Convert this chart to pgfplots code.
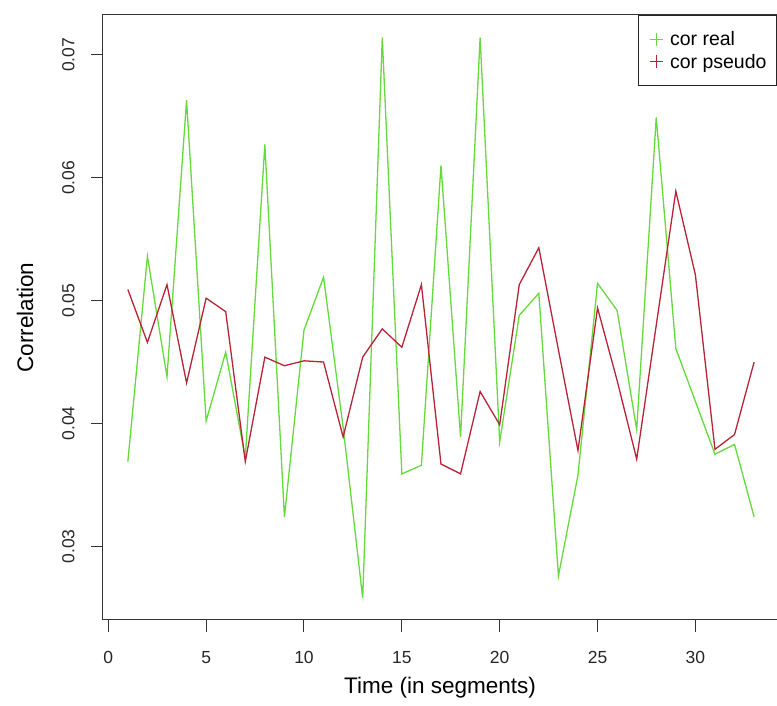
\documentclass[border=0pt]{standalone}
\usepackage{pgfplots}
\pgfplotsset{compat=1.18}
\usepackage{fontspec}
\setmainfont{Liberation Sans}
\definecolor{cgreen}{RGB}{100,218,60}
\definecolor{cred}{RGB}{185,35,55}
\begin{document}
\begin{tikzpicture}[x=1pt,y=1pt]
\useasboundingbox (0,0) rectangle (777,706);
\begin{axis}[
  at={(103pt,86pt)}, anchor=south west,
  scale only axis, width=674pt, height=605pt,
  xmin=-0.27, xmax=34.17, ymin=0.02401, ymax=0.07324,
  scaled y ticks=false, scaled x ticks=false,
  axis line style={draw=black!80, line width=1pt},
  tick align=outside, major tick length=12pt,
  tick style={draw=black!80, line width=1pt},
  xtick pos=lower, ytick pos=left,
  xtick={0,5,10,15,20,25,30}, xticklabels={0,5,10,15,20,25,30},
  ytick={0.03,0.04,0.05,0.06,0.07}, yticklabels={0.03,0.04,0.05,0.06,0.07},
  ticklabel style={font=\fontsize{17.5}{20}\selectfont, text=black!85},
  xticklabel style={yshift=-16pt},
  yticklabel style={rotate=90, anchor=south, yshift=13pt},
  xlabel={Time (in segments)}, ylabel={Correlation},
  label style={font=\fontsize{22.5}{26}\selectfont},
  xlabel style={at={(axis description cs:0.5,-0.1124)}, anchor=center},
  ylabel style={at={(axis description cs:-0.1157,0.5)}, anchor=center},
  legend style={at={(rel axis cs:1,1)}, anchor=north east, draw=black!85, line width=1pt,
    fill=white, font=\fontsize{19.5}{23}\selectfont, inner xsep=8pt, inner ysep=14pt,
    row sep=3pt},
  legend cell align=left,
  legend image code/.code={%
    \draw[#1, mark=+, mark size=6.5pt, mark options={solid, line width=1pt}] plot coordinates {(10pt,0pt)};
    \path[draw=none, fill=none] (0pt,0pt) (22pt,0pt);},
]
\addplot[color=cgreen, line width=1.3pt] coordinates {
(1,0.0369) (2,0.0536) (3,0.0438) (4,0.0663) (5,0.0402) (6,0.0458) (7,0.0372)
(8,0.0627) (9,0.0324) (10,0.0476) (11,0.0519) (12,0.0397) (13,0.0258) (14,0.0714)
(15,0.0359) (16,0.0366) (17,0.0610) (18,0.0389) (19,0.0714) (20,0.0385) (21,0.0488)
(22,0.0506) (23,0.0276) (24,0.0358) (25,0.0514) (26,0.0492) (27,0.0395) (28,0.0649)
(29,0.0461) (30,0.0418) (31,0.0375) (32,0.0383) (33,0.0324)};
\addlegendentry{cor real}
\addplot[color=cred, line width=1.3pt] coordinates {
(1,0.0509) (2,0.0466) (3,0.0513) (4,0.0433) (5,0.0502) (6,0.0491) (7,0.0369)
(8,0.0454) (9,0.0447) (10,0.0451) (11,0.0450) (12,0.0389) (13,0.0454) (14,0.0477)
(15,0.0462) (16,0.0513) (17,0.0367) (18,0.0359) (19,0.0426) (20,0.0399) (21,0.0513)
(22,0.0543) (23,0.0460) (24,0.0378) (25,0.0494) (26,0.0435) (27,0.0371) (28,0.0480)
(29,0.0589) (30,0.0521) (31,0.0379) (32,0.0391) (33,0.0450)};
\addlegendentry{cor pseudo}
\end{axis}
\end{tikzpicture}
\end{document}
